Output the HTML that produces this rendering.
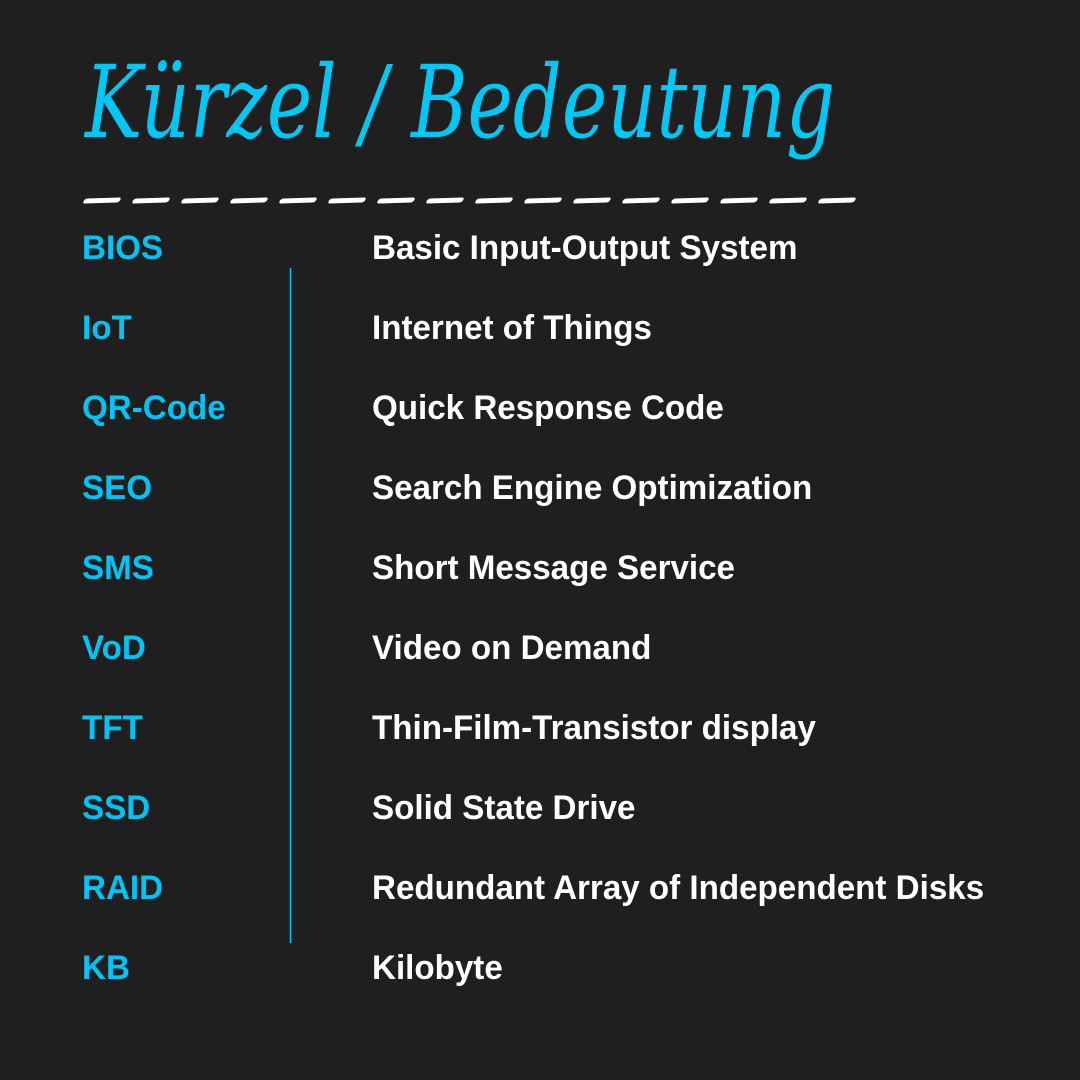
<!DOCTYPE html>
<html><head><meta charset="utf-8"><style>
html,body{margin:0;padding:0;background:#1f1f1f;}
body{width:1080px;height:1080px;position:relative;overflow:hidden;font-family:"Liberation Sans",sans-serif;}
.r{position:absolute;font-size:34px;font-weight:bold;line-height:1;white-space:nowrap;transform:scaleX(0.975);transform-origin:left top;}
.a{left:82px;color:#00c4f4;}
.m{left:372px;color:#ffffff;}
.d{position:absolute;top:198px;width:36px;height:5px;background:#fff;border-radius:3px;transform:skewX(-30deg) rotate(-2deg);}
</style></head><body>
<svg width="1080" height="1080" style="position:absolute;left:0;top:0">
<text x="85" y="137" font-family="DejaVu Serif, serif" font-style="italic" font-size="100" fill="#00c8f6" textLength="750" lengthAdjust="spacingAndGlyphs">Kürzel / Bedeutung</text>
<line x1="290.5" y1="268" x2="290.5" y2="943" stroke="#00c4f4" stroke-width="1.5"/>
</svg>
<div class="d" style="left:84px"></div><div class="d" style="left:133px"></div><div class="d" style="left:182px"></div><div class="d" style="left:231px"></div>
<div class="d" style="left:280px"></div><div class="d" style="left:329px"></div><div class="d" style="left:378px"></div><div class="d" style="left:427px"></div>
<div class="d" style="left:476px"></div><div class="d" style="left:525px"></div><div class="d" style="left:574px"></div><div class="d" style="left:623px"></div>
<div class="d" style="left:672px"></div><div class="d" style="left:721px"></div><div class="d" style="left:770px"></div><div class="d" style="left:819px"></div>
<div class="r a" style="top:231px">BIOS</div><div class="r m" style="top:231px">Basic Input-Output System</div>
<div class="r a" style="top:311px">IoT</div><div class="r m" style="top:311px">Internet of Things</div>
<div class="r a" style="top:391px">QR-Code</div><div class="r m" style="top:391px">Quick Response Code</div>
<div class="r a" style="top:471px">SEO</div><div class="r m" style="top:471px">Search Engine Optimization</div>
<div class="r a" style="top:551px">SMS</div><div class="r m" style="top:551px">Short Message Service</div>
<div class="r a" style="top:631px">VoD</div><div class="r m" style="top:631px">Video on Demand</div>
<div class="r a" style="top:711px">TFT</div><div class="r m" style="top:711px">Thin-Film-Transistor display</div>
<div class="r a" style="top:791px">SSD</div><div class="r m" style="top:791px">Solid State Drive</div>
<div class="r a" style="top:871px">RAID</div><div class="r m" style="top:871px">Redundant Array of Independent Disks</div>
<div class="r a" style="top:951px">KB</div><div class="r m" style="top:951px">Kilobyte</div>
</body></html>
